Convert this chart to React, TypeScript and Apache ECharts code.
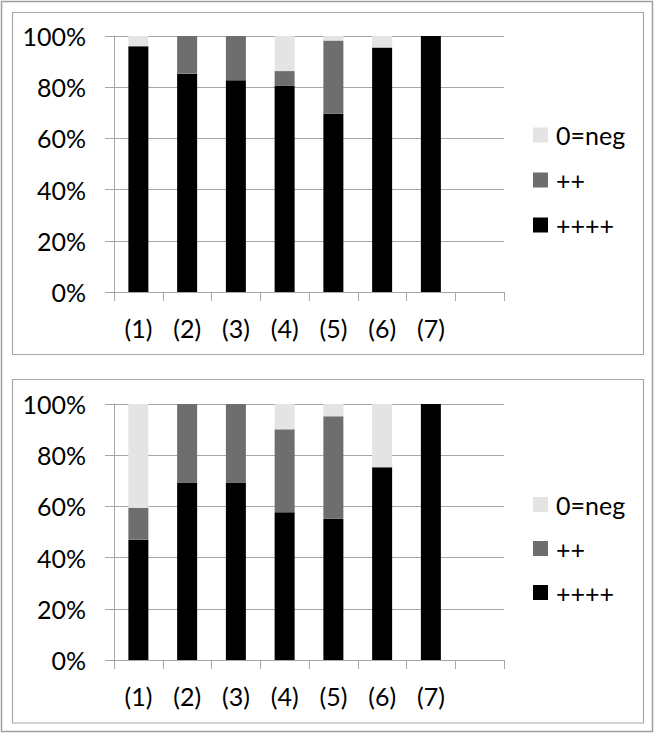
import React, { useEffect, useRef } from "react";
import * as echarts from "echarts";

const categories = ["(1)", "(2)", "(3)", "(4)", "(5)", "(6)", "(7)", ""];
const yTicks = [0, 20, 40, 60, 80, 100];
const seriesNames = ["0=neg", "++", "++++"];

const topStrong = [96, 85.3, 82.7, 80.5, 69.6, 95.5, 100];
const topMid = [0, 14.7, 17.3, 5.8, 28.6, 0, 0];
const topNeg = [4, 0, 0, 13.7, 1.8, 4.5, 0];

const bottomStrong = [47, 69.3, 69.3, 57.7, 55.2, 75.3, 100];
const bottomMid = [12.5, 30.7, 30.7, 32.4, 40, 0, 0];
const bottomNeg = [40.5, 0, 0, 9.9, 4.8, 24.7, 0];

const COLORS: Record<string, string> = {
  "0=neg": "#e4e4e4",
  "++": "#6e6e6e",
  "++++": "#000000",
};

const FONT = "Lato";
const GRID_COLOR = "#a6a6a6";

export default function App() {
  const ref = useRef<HTMLDivElement>(null);

  useEffect(() => {
    if (!ref.current) return;
    const chart = echarts.init(ref.current, undefined, { renderer: "svg" });

    const grids = [
      { left: 114, top: 36, width: 390, height: 256 },
      { left: 114, top: 404, width: 390, height: 256 },
    ];

    const mkX = (gridIndex: number) => ({
      type: "category",
      gridIndex,
      data: categories,
      boundaryGap: true,
      axisLine: { show: true, lineStyle: { color: GRID_COLOR, width: 1 } },
      axisTick: { show: true, length: 9, alignWithLabel: false, lineStyle: { color: GRID_COLOR } },
      axisLabel: {
        color: "#000",
        fontFamily: FONT,
        fontSize: 25,
        lineHeight: 30,
        margin: 21,
        interval: 0,
      },
      splitLine: { show: false },
    });

    const mkY = (gridIndex: number) => ({
      type: "value",
      gridIndex,
      min: yTicks[0],
      max: yTicks[yTicks.length - 1],
      interval: 20,
      axisLine: { show: true, lineStyle: { color: GRID_COLOR, width: 1 } },
      axisTick: { show: true, length: 9, lineStyle: { color: GRID_COLOR } },
      axisLabel: {
        color: "#000",
        fontFamily: FONT,
        fontSize: 25,
        margin: 28,
        formatter: "{value}%",
      },
      splitLine: { show: true, lineStyle: { color: GRID_COLOR, width: 1 } },
    });

    const mkSeries = (idx: number, strong: number[], mid: number[], neg: number[]) => {
      const stack = "s" + idx;
      const base = {
        type: "bar",
        xAxisIndex: idx,
        yAxisIndex: idx,
        stack,
        barWidth: 20,
        emphasis: { disabled: true },
      };
      return [
        { ...base, name: "++++", data: strong, itemStyle: { color: COLORS["++++"] } },
        { ...base, name: "++", data: mid, itemStyle: { color: COLORS["++"] } },
        { ...base, name: "0=neg", data: neg, itemStyle: { color: COLORS["0=neg"] } },
      ];
    };

    const mkLegend = (top: number, gap: number) => ({
      orient: "vertical",
      left: 533,
      top,
      padding: 0,
      itemWidth: 15,
      itemHeight: 15,
      itemGap: gap,
      icon: "rect",
      selectedMode: false,
      data: seriesNames,
      textStyle: {
        color: "#000",
        fontFamily: FONT,
        fontSize: 25,
        lineHeight: 26,
        padding: [0, 0, 0, 3],
      },
    });

    chart.setOption({
      animation: false,
      grid: grids,
      xAxis: [mkX(0), mkX(1)],
      yAxis: [mkY(0), mkY(1)],
      legend: [mkLegend(122, 19), mkLegend(491.5, 18)],
      series: [
        ...mkSeries(0, topStrong, topMid, topNeg),
        ...mkSeries(1, bottomStrong, bottomMid, bottomNeg),
      ],
      graphic: [
        {
          type: "rect",
          silent: true,
          shape: { x: 1.5, y: 1.5, width: 651, height: 730 },
          style: { fill: "none", stroke: "#a0a0a0", lineWidth: 1.5 },
        },
        {
          type: "rect",
          silent: true,
          shape: { x: 12.5, y: 12.5, width: 631, height: 342 },
          style: { fill: "none", stroke: "#a8a8a8", lineWidth: 1.2 },
        },
        {
          type: "rect",
          silent: true,
          shape: { x: 12.5, y: 379.5, width: 631, height: 343.5 },
          style: { fill: "none", stroke: "#a8a8a8", lineWidth: 1.2 },
        },
      ],
    });

    return () => {
      chart.dispose();
    };
  }, []);

  return (
    <div
      ref={ref}
      style={{ position: "fixed", left: 0, top: 0, width: 655, height: 734, background: "#fff" }}
    />
  );
}
